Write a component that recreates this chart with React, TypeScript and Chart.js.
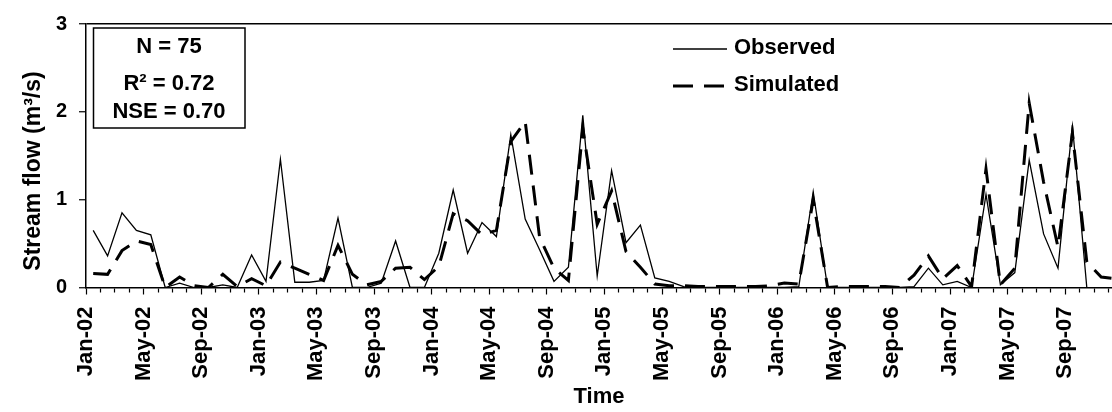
import React, { useEffect, useRef } from 'react';
import { Chart, registerables } from 'chart.js';

Chart.register(...registerables);

const FONT = '"Liberation Sans", Arial, sans-serif';

// Tick labels every 4 months starting Jan-02
const tickLabels = [
  'Jan-02', 'May-02', 'Sep-02', 'Jan-03', 'May-03', 'Sep-03',
  'Jan-04', 'May-04', 'Sep-04', 'Jan-05', 'May-05', 'Sep-05',
  'Jan-06', 'May-06', 'Sep-06', 'Jan-07', 'May-07', 'Sep-07',
];

// Monthly stream flow (m3/s), Jan-02 .. Dec-07
const observed = [
  0.65, 0.36, 0.85, 0.65, 0.60, 0.00, 0.05, 0.00, 0.00, 0.03, 0.00, 0.37,
  0.07, 1.46, 0.06, 0.06, 0.08, 0.79, 0.00, 0.00, 0.05, 0.53, 0.00, 0.00,
  0.39, 1.11, 0.39, 0.74, 0.58, 1.74, 0.78, 0.43, 0.07, 0.23, 1.96, 0.13,
  1.33, 0.51, 0.71, 0.11, 0.07, 0.01, 0.00, 0.00, 0.00, 0.00, 0.00, 0.00,
  0.00, 0.01, 1.09, 0.00, 0.00, 0.00, 0.00, 0.00, 0.00, 0.01, 0.22, 0.03,
  0.07, 0.00, 1.06, 0.03, 0.17, 1.45, 0.61, 0.22, 1.85, 0.00, null, null,
];

const simulated = [
  0.16, 0.15, 0.42, 0.53, 0.49, 0.00, 0.12, 0.02, 0.00, 0.15, 0.01, 0.10,
  0.02, 0.29, 0.22, 0.15, 0.08, 0.48, 0.15, 0.03, 0.07, 0.22, 0.23, 0.09,
  0.24, 0.84, 0.76, 0.60, 0.65, 1.66, 1.89, 0.57, 0.22, 0.08, 1.81, 0.72,
  1.10, 0.41, 0.23, 0.04, 0.02, 0.02, 0.01, 0.01, 0.01, 0.01, 0.01, 0.02,
  0.05, 0.04, 1.00, 0.00, 0.01, 0.01, 0.01, 0.01, 0.00, 0.14, 0.36, 0.10,
  0.25, 0.01, 1.35, 0.03, 0.22, 2.10, 1.20, 0.46, 1.76, 0.29, 0.12, 0.10,
];

const seriesNames = ['Observed', 'Simulated'];
const statsLines = ['N = 75', 'R\u00B2 = 0.72', 'NSE = 0.70'];
const yTitle = 'Stream flow (m\u00B3/s)';
const xTitle = 'Time';

const toPoints = (arr: (number | null)[]) => arr.map((v, i) => ({ x: i + 0.5, y: v }));

const overlayPlugin = {
  id: 'overlay',
  afterDraw(chart: any) {
    const ctx = chart.ctx as CanvasRenderingContext2D;
    ctx.save();
    ctx.fillStyle = '#000';
    ctx.strokeStyle = '#000';

    // Y axis title
    ctx.save();
    ctx.font = `bold 23px ${FONT}`;
    ctx.translate(34, 171);
    ctx.rotate(-Math.PI / 2);
    ctx.textAlign = 'center';
    ctx.textBaseline = 'middle';
    ctx.fillText(yTitle, 0, 0);
    ctx.restore();

    // Stats box
    ctx.lineWidth = 1.5;
    ctx.strokeRect(93.5, 28, 151.5, 100);
    ctx.font = `bold 22px ${FONT}`;
    ctx.textAlign = 'center';
    ctx.textBaseline = 'middle';
    const ys = [47, 84, 112];
    statsLines.forEach((t, i) => ctx.fillText(t, 169, ys[i]));

    // Legend
    ctx.textAlign = 'left';
    ctx.beginPath();
    ctx.lineWidth = 1.3;
    ctx.moveTo(673, 49);
    ctx.lineTo(727, 49);
    ctx.stroke();
    ctx.fillText(seriesNames[0], 734, 48);

    ctx.beginPath();
    ctx.lineWidth = 3;
    ctx.lineCap = 'butt';
    ctx.setLineDash([20, 11]);
    ctx.moveTo(673, 86);
    ctx.lineTo(727, 86);
    ctx.stroke();
    ctx.setLineDash([]);
    ctx.fillText(seriesNames[1], 734, 85);

    ctx.restore();
  },
};

export default function App() {
  const ref = useRef<HTMLCanvasElement | null>(null);

  useEffect(() => {
    document.body.style.margin = '0';
    const canvas = ref.current;
    if (!canvas) return;
    const chart = new Chart(canvas, {
      type: 'line',
      data: {
        datasets: [
          {
            label: seriesNames[0],
            data: toPoints(observed),
            borderColor: '#000',
            backgroundColor: '#000',
            borderWidth: 1.3,
            pointRadius: 0,
            tension: 0,
            fill: false,
          },
          {
            label: seriesNames[1],
            data: toPoints(simulated),
            borderColor: '#000',
            backgroundColor: '#000',
            borderWidth: 3,
            borderDash: [20, 11],
            borderCapStyle: 'butt',
            pointRadius: 0,
            tension: 0,
            fill: false,
          },
        ],
      },
      options: {
        responsive: false,
        animation: false,
        devicePixelRatio: 1,
        layout: { padding: { top: 21.7, right: 0, bottom: 0, left: 0 } },
        plugins: {
          legend: { display: false },
          tooltip: { enabled: false },
        },
        scales: {
          x: {
            type: 'linear',
            min: 0,
            max: 71.25,
            afterFit: (s: any) => {
              s.height = 124.5;
              s.paddingLeft = 0;
              s.paddingRight = 0;
            },
            ticks: {
              stepSize: 1,
              autoSkip: false,
              includeBounds: false,
              maxTicksLimit: 200,
              maxRotation: 90,
              minRotation: 90,
              padding: 12,
              color: '#000',
              font: { family: FONT, size: 22, weight: 'bold' },
              callback: (v: any) => {
                const n = Number(v);
                return Number.isInteger(n) && n % 4 === 0 ? tickLabels[n / 4] ?? '' : '';
              },
            },
            grid: {
              display: true,
              drawOnChartArea: false,
              drawTicks: true,
              tickLength: 7,
              tickColor: '#000',
              tickWidth: 1.2,
              tickBorderDash: (c: any) =>
                c.tick && Number.isInteger(c.tick.value) && c.tick.value % 4 === 0 ? [] : [4, 30],
            },
            border: { display: true, color: '#000', width: 1.5 },
            title: {
              display: true,
              text: xTitle,
              color: '#000',
              font: { family: FONT, size: 22, weight: 'bold' },
              padding: { top: 0, bottom: 2 },
            },
          },
          y: {
            min: 0,
            max: 3,
            afterFit: (s: any) => {
              s.width = 86;
            },
            ticks: {
              stepSize: 1,
              padding: 12,
              color: '#000',
              font: { family: FONT, size: 20, weight: 'bold' },
            },
            grid: {
              drawOnChartArea: true,
              color: (c: any) => (c.tick && c.tick.value === 3 ? '#000' : 'rgba(0,0,0,0)'),
              lineWidth: 1.5,
              tickLength: 7,
              tickColor: '#000',
              tickWidth: 1.2,
            },
            border: { display: true, color: '#000', width: 1.5 },
          },
        },
      } as any,
      plugins: [overlayPlugin],
    });
    return () => chart.destroy();
  }, []);

  return <canvas ref={ref} width={1112} height={412} style={{ display: 'block' }} />;
}
